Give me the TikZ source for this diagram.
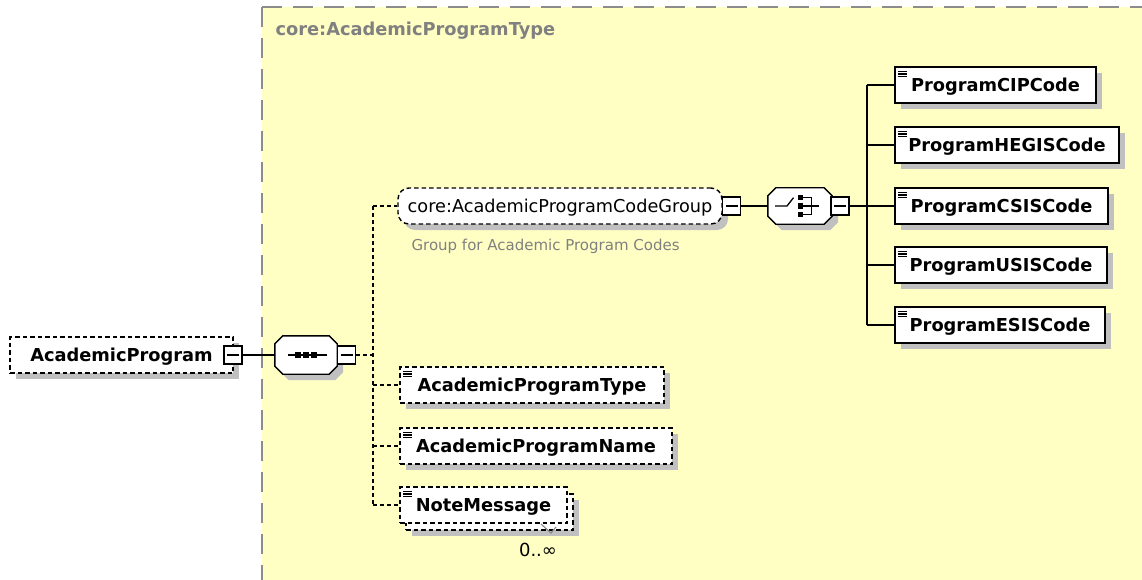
\documentclass[tikz,border=0pt]{standalone}
\usepackage{fontspec}
\setmainfont{DejaVu Sans}
\usetikzlibrary{shadows,calc}
\definecolor{bgyellow}{RGB}{255,255,196}
\definecolor{shgray}{RGB}{192,192,192}
\definecolor{frgray}{RGB}{140,140,140}
\definecolor{txgray}{RGB}{128,128,128}
\tikzset{
  shad/.style={drop shadow={shadow xshift=6pt,shadow yshift=-6pt,fill=shgray,opacity=1}},
  elembox/.style={draw, fill=white, line width=1.4pt, minimum height=36pt, inner sep=0pt,
    text height=13pt, text depth=0pt, font=\bfseries\fontsize{17.8}{20}\selectfont},
  optbox/.style={elembox, dash pattern=on 4.5pt off 3pt},
  icon/.style={path picture={\foreach \dy in {4.5,7,9.5}{\draw[solid,line width=1.1pt,black] ([shift={(3pt,-\dy pt)}]path picture bounding box.north west) -- ++(9pt,0pt);}}},
  grpbox/.style={draw, fill=white, line width=1.4pt, dash pattern=on 4.5pt off 3pt, rounded corners=11pt,
    minimum height=36pt, inner sep=0pt, text height=12.9pt, text depth=0pt, font=\fontsize{17.7}{20}\selectfont},
  minusbox/.style={draw, fill=white, line width=1.3pt, minimum size=18pt, inner sep=0pt,
    path picture={\draw[line width=1.3pt] ([xshift=3pt]path picture bounding box.west) -- ([xshift=-3pt]path picture bounding box.east);}},
  compo/.style={minimum width=62pt, minimum height=38pt, inner sep=0pt},
  compline/.style={draw, fill=white, line width=1.4pt, shad},
  octpath/.style={insert path={([xshift=8pt]#1.north west) -- ([xshift=-8pt]#1.north east) -- ([yshift=-8pt]#1.north east) -- ([yshift=8pt]#1.south east) -- ([xshift=-8pt]#1.south east) -- ([xshift=8pt]#1.south west) -- ([yshift=8pt]#1.south west) -- ([yshift=-8pt]#1.north west) -- cycle}},
  conn/.style={draw, line width=1.5pt, black},
  dconn/.style={draw, line width=1.4pt, black, dash pattern=on 4pt off 3pt},
  yborder/.style={draw, frgray, line width=2pt, dash pattern=on 20pt off 11pt},
  sq/.style={fill=black, minimum size=5.5pt, inner sep=0pt}
}
\begin{document}
\begin{tikzpicture}[x=1pt,y=-1pt]
\useasboundingbox (0,0) rectangle (1142,580);
% complex type area
\fill[bgyellow] (262,7) rectangle (1142,580);
\draw[yborder] (262,7) -- (262,580);
\draw[yborder] (262,7) -- (1142,7);
\node[anchor=west, text=txgray, font=\bfseries\fontsize{17.8}{20}\selectfont] (title) at (272,31) {core:AcademicProgramType};

% root element
\node[optbox, shad, minimum width=223pt] (ap) at (121.5,355) {AcademicProgram};
\node[minusbox] (apm) at (233,355) {};

% sequence compositor
\node[compo] (seq) at (306,355) {};
\draw[compline] [octpath=seq];
\draw[conn] ($(seq.center)+(-18,0)$) -- ($(seq.center)+(21,0)$);
\node[sq] (s1) at ($(seq.center)+(-8,0)$) {};
\node[sq] (s2) at ($(seq.center)+(0,0)$) {};
\node[sq] (s3) at ($(seq.center)+(8,0)$) {};
\node[minusbox] (seqm) at (346.5,355) {};
\draw[conn] (apm.east) -- (seq.west);

% group
\node[grpbox, shad, minimum width=324pt] (grp) at (560,206) {core:AcademicProgramCodeGroup};
\node[minusbox] (grpm) at (731.5,206) {};
\node[anchor=west, text=txgray, font=\fontsize{15}{18}\selectfont] (desc) at (408,246) {Group for Academic Program Codes};

% choice compositor
\node[compo, minimum width=64pt, minimum height=36pt] (cho) at (800,206) {};
\draw[compline] [octpath=cho];
\draw[conn, line width=1.3pt] ($(cho.center)+(-25,0)$) -- ($(cho.center)+(-13,0)$) -- ($(cho.center)+(-6.5,-8.3)$);
\node[sq] (c1) at ($(cho.center)+(0.5,-8.3)$) {};
\node[sq] (c2) at ($(cho.center)+(0.5,0)$) {};
\node[sq] (c3) at ($(cho.center)+(0.5,8.3)$) {};
\draw[conn, line width=1.3pt] (c1.east) -- ($(cho.center)+(11.7,-8.3)$) -- ($(cho.center)+(11.7,8.3)$) -- (c3.east);
\draw[conn, line width=1.3pt] (c2.east) -- ($(cho.center)+(19.3,0)$);
\node[minusbox] (chom) at (840,206) {};
\draw[conn] (grpm.east) -- (cho.west);

% choice children
\foreach \n/\x/\y/\w/\t in {r1/995.5/85/201/ProgramCIPCode, r2/1007/145/224/ProgramHEGISCode, r3/1001.5/206/213/ProgramCSISCode, r4/1001/265/212/ProgramUSISCode, r5/1000/325/210/ProgramESISCode}{
  \node[elembox, shad, icon, minimum width=\w pt] (\n) at (\x,\y) {\t};
}
\coordinate (cv) at (867,206);
\draw[conn] (chom.east) -- (cv);
\draw[conn] (cv |- r1.west) -- (cv |- r5.west);
\foreach \n in {r1,r2,r3,r4,r5}{
  \draw[conn] (cv |- \n.west) -- (\n.west);
}

% sequence children
\node[optbox, shad, icon, minimum width=264pt] (apt) at (532,385) {AcademicProgramType};
\node[optbox, shad, icon, minimum width=272pt] (apn) at (536,446) {AcademicProgramName};
\node[optbox, shad, minimum width=167pt] (nmb) at (489.5,512) {};
\node[optbox, icon, minimum width=167pt] (nm) at (483.5,505) {NoteMessage};
\draw[shgray!70!black, line width=1.1pt] (541,524) -- (551,533) -- (556,527);
\node[font=\fontsize{18}{20}\selectfont] (card) at (538,550) {0..∞};

\coordinate (vb) at (373,355);
\draw[dconn] (seqm.east) -- (vb);
\draw[dconn] (vb |- grp.west) -- (vb |- nm.west);
\foreach \n in {grp,apt,apn,nm}{
  \draw[dconn] (vb |- \n.west) -- (\n.west);
}
\end{tikzpicture}
\end{document}
